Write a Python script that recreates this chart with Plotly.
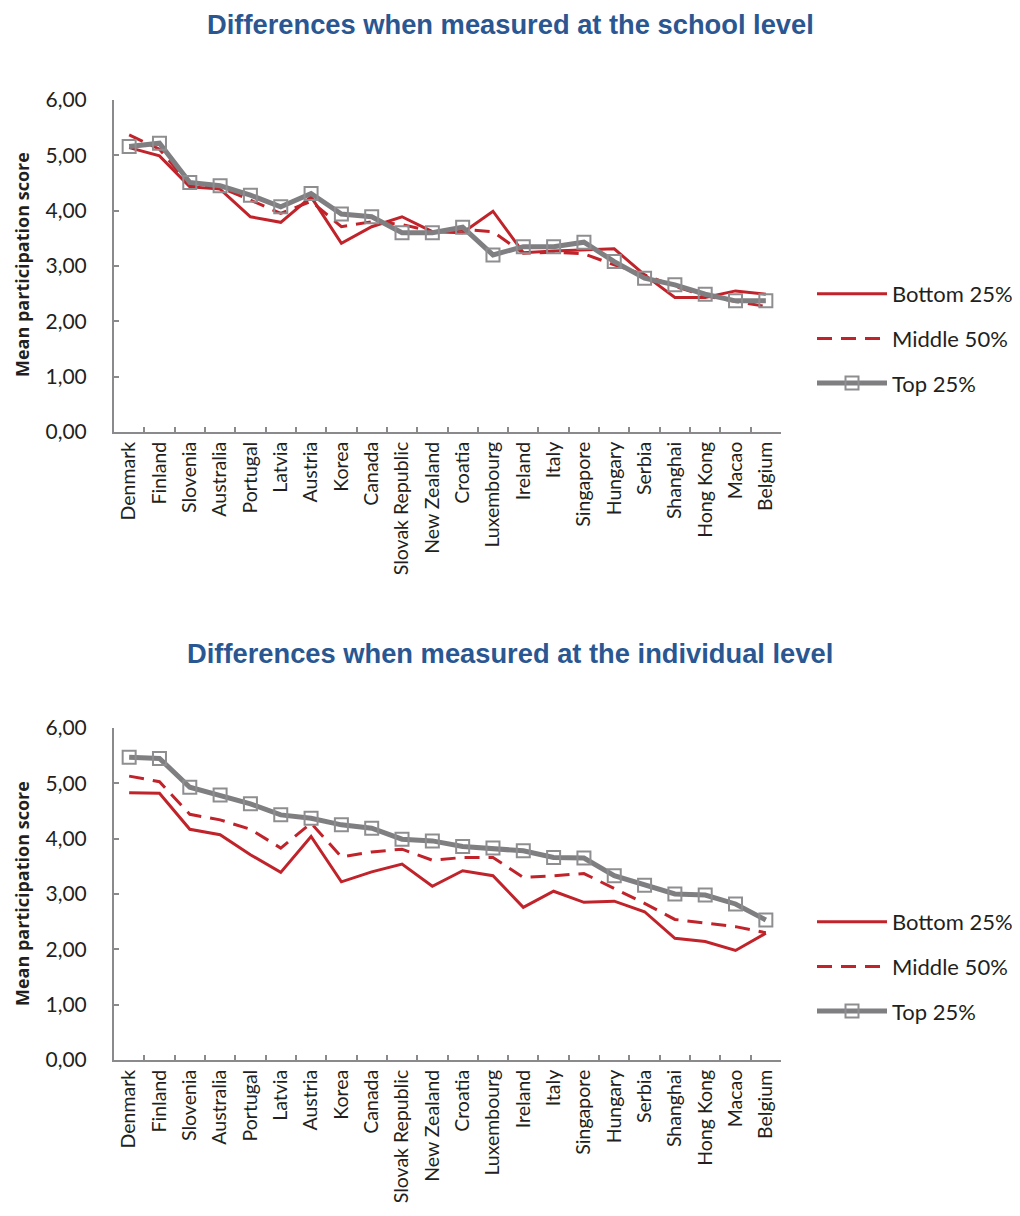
import plotly.graph_objects as go

countries = ["Denmark", "Finland", "Slovenia", "Australia", "Portugal", "Latvia", "Austria",
             "Korea", "Canada", "Slovak Republic", "New Zealand", "Croatia", "Luxembourg",
             "Ireland", "Italy", "Singapore", "Hungary", "Serbia", "Shanghai", "Hong Kong",
             "Macao", "Belgium"]

school_bottom = [5.14, 4.99, 4.43, 4.39, 3.89, 3.79, 4.25, 3.41, 3.71, 3.89, 3.62,
                 3.60, 3.99, 3.24, 3.27, 3.29, 3.31, 2.84, 2.43, 2.43, 2.55, 2.49]
school_middle = [5.37, 5.11, 4.46, 4.42, 4.19, 3.95, 4.17, 3.71, 3.80, 3.75, 3.62,
                 3.66, 3.62, 3.23, 3.25, 3.22, 3.02, 2.84, 2.63, 2.46, 2.36, 2.27]
school_top = [5.16, 5.22, 4.51, 4.45, 4.28, 4.07, 4.31, 3.94, 3.89, 3.60, 3.60,
              3.70, 3.20, 3.35, 3.35, 3.43, 3.08, 2.78, 2.66, 2.49, 2.37, 2.37]

indiv_bottom = [4.83, 4.82, 4.17, 4.07, 3.71, 3.39, 4.04, 3.22, 3.40, 3.54, 3.14,
                3.42, 3.33, 2.76, 3.05, 2.85, 2.87, 2.68, 2.20, 2.14, 1.98, 2.29]
indiv_middle = [5.13, 5.03, 4.44, 4.34, 4.17, 3.83, 4.28, 3.67, 3.76, 3.81, 3.61,
                3.66, 3.66, 3.30, 3.33, 3.37, 3.10, 2.83, 2.54, 2.47, 2.41, 2.30]
indiv_top = [5.47, 5.45, 4.93, 4.79, 4.63, 4.43, 4.37, 4.25, 4.19, 3.99, 3.96,
             3.86, 3.83, 3.78, 3.66, 3.65, 3.33, 3.16, 3.00, 2.98, 2.82, 2.53]

series_names = ["Bottom 25%", "Middle 50%", "Top 25%"]
titles = ["Differences when measured at the school level",
          "Differences when measured at the individual level"]
y_title = "Mean participation score"

# page body adds an 8px offset; figure is sized to fit the window
OFF = 8
W, H = 1020 - 2 * OFF, 1216 - 2 * OFF
RED = "#C1232B"
GRAY = "#7F7F82"
MARKER_GRAY = "#8E8E91"
AXIS_GRAY = "#8A8A8D"
TITLE_BLUE = "#2A5792"
TEXT = "#231F20"
TICK_FONT = dict(family="Lato, Open Sans, sans-serif", size=19.5, color=TEXT)


def px_x(v):
    return (v - OFF) / W


def px_y(v):
    return 1 - (v - OFF) / H


fig = go.Figure()

panels = [
    ("x", "y", "legend", (school_bottom, school_middle, school_top)),
    ("x2", "y2", "legend2", (indiv_bottom, indiv_middle, indiv_top)),
]

for xa, ya, lg, (b, m, t) in panels:
    fig.add_trace(go.Scatter(x=countries, y=b, name=series_names[0], mode="lines",
                             line=dict(color=RED, width=3), xaxis=xa, yaxis=ya,
                             legend=lg, legendgroup=lg + "b"))
    fig.add_trace(go.Scatter(x=countries, y=m, name=series_names[1], mode="lines",
                             line=dict(color=RED, width=3, dash="15px,9px"), xaxis=xa, yaxis=ya,
                             legend=lg, legendgroup=lg + "m"))
    fig.add_trace(go.Scatter(x=countries, y=t, name=series_names[2], mode="lines+markers",
                             line=dict(color=GRAY, width=5),
                             marker=dict(symbol="square-open", size=13,
                                         color=MARKER_GRAY, line=dict(width=2, color=MARKER_GRAY)),
                             xaxis=xa, yaxis=ya, legend=lg, legendgroup=lg + "t"))

xdom = [px_x(114), px_x(781)]
top_dom = [px_y(432), px_y(100)]
bot_dom = [px_y(1060), px_y(728)]

xcommon = dict(type="category", range=[-0.5, len(countries) - 0.5], domain=xdom,
               automargin=False,
               showline=True, linecolor=AXIS_GRAY, linewidth=2, ticks="inside",
               tickson="boundaries", ticklen=5, tickcolor=AXIS_GRAY, tickwidth=1.5,
               tickangle=-90, showgrid=False, zeroline=False, tickfont=TICK_FONT)
ycommon = dict(range=[0, 6], dtick=1, tick0=0, tickformat=".2f", automargin=False,
               showline=True, linecolor=AXIS_GRAY, linewidth=2, ticks="inside",
               ticklen=5, tickcolor=AXIS_GRAY, tickwidth=1.5, showgrid=False,
               zeroline=False, tickfont=dict(TICK_FONT, size=21), ticklabelstandoff=21)

legend_common = dict(x=px_x(812), xanchor="left", yanchor="top", itemwidth=70,
                     tracegroupgap=13, traceorder="grouped",
                     font=dict(family="Lato, Open Sans, sans-serif", size=22, color=TEXT),
                     bgcolor="rgba(0,0,0,0)")

fig.update_layout(
    template="none",
    width=W, height=H, margin=dict(l=0, r=0, t=0, b=0, autoexpand=False),
    paper_bgcolor="white", plot_bgcolor="white",
    separators=", ",
    showlegend=True,
    xaxis=dict(xcommon, anchor="y"),
    yaxis=dict(ycommon, domain=top_dom, anchor="x"),
    xaxis2=dict(xcommon, anchor="y2"),
    yaxis2=dict(ycommon, domain=bot_dom, anchor="x2"),
    legend=dict(legend_common, y=px_y(293 - 20)),
    legend2=dict(legend_common, y=px_y(921 - 20)),
)

for title, ypix in zip(titles, [25, 653]):
    fig.add_annotation(text="<b>" + title + "</b>", xref="paper", yref="paper",
                       x=px_x(510), y=px_y(ypix), xanchor="center", yanchor="middle",
                       showarrow=False,
                       font=dict(family="Liberation Sans, Arial, sans-serif", size=27.3,
                                 color=TITLE_BLUE))

for ypix in [265, 894]:
    fig.add_annotation(text="<b>" + y_title + "</b>", xref="paper", yref="paper",
                       x=px_x(22), y=px_y(ypix), xanchor="center", yanchor="middle",
                       textangle=-90, showarrow=False,
                       font=dict(family="Open Sans, sans-serif", size=18, color=TEXT))

fig.write_html("out.html")
